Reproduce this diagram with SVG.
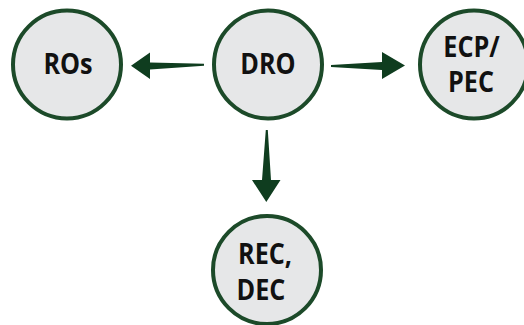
<svg xmlns="http://www.w3.org/2000/svg" width="524" height="325" viewBox="0 0 524 325">
<style>
.n{fill:#e6e7e8;stroke:#1c4a29;stroke-width:4}
.t{font-family:"Open Sans","Noto Sans",sans-serif;font-weight:bold;font-size:28px;fill:#111;text-anchor:middle}
.a{fill:#0f3d1f}
</style>
<rect width="524" height="325" fill="#fff"/>
<g id="connectors">
<polygon class="a" points="204,63.8 150,62.5 150,52.5 131,65.8 150,79 150,69.5 204,65.8"/>
<polygon class="a" points="331,65 382,62 382,52 405,65.5 382,79 382,70 331,67"/>
<polygon class="a" points="265.8,130 262,180 252,180 266.3,202 280.5,180 271,180 267.8,130"/>
</g>
<g id="ROs"><circle class="n" cx="67" cy="64.5" r="54"/><text class="t" transform="translate(68,74) scale(0.9,1)">ROs</text></g>
<g id="DRO"><circle class="n" cx="268" cy="64.5" r="54"/><text class="t" transform="translate(268,74) scale(0.9,1)">DRO</text></g>
<g id="ECP"><circle class="n" cx="474" cy="64.5" r="54"/><text class="t" transform="translate(471.5,57) scale(0.9,1)">ECP/</text><text class="t" transform="translate(471,92) scale(0.9,1)">PEC</text></g>
<g id="REC"><circle class="n" cx="267" cy="270" r="54"/><text class="t" transform="translate(265,264) scale(0.9,1)">REC,</text><text class="t" transform="translate(261,300) scale(0.9,1)">DEC</text></g>
</svg>
